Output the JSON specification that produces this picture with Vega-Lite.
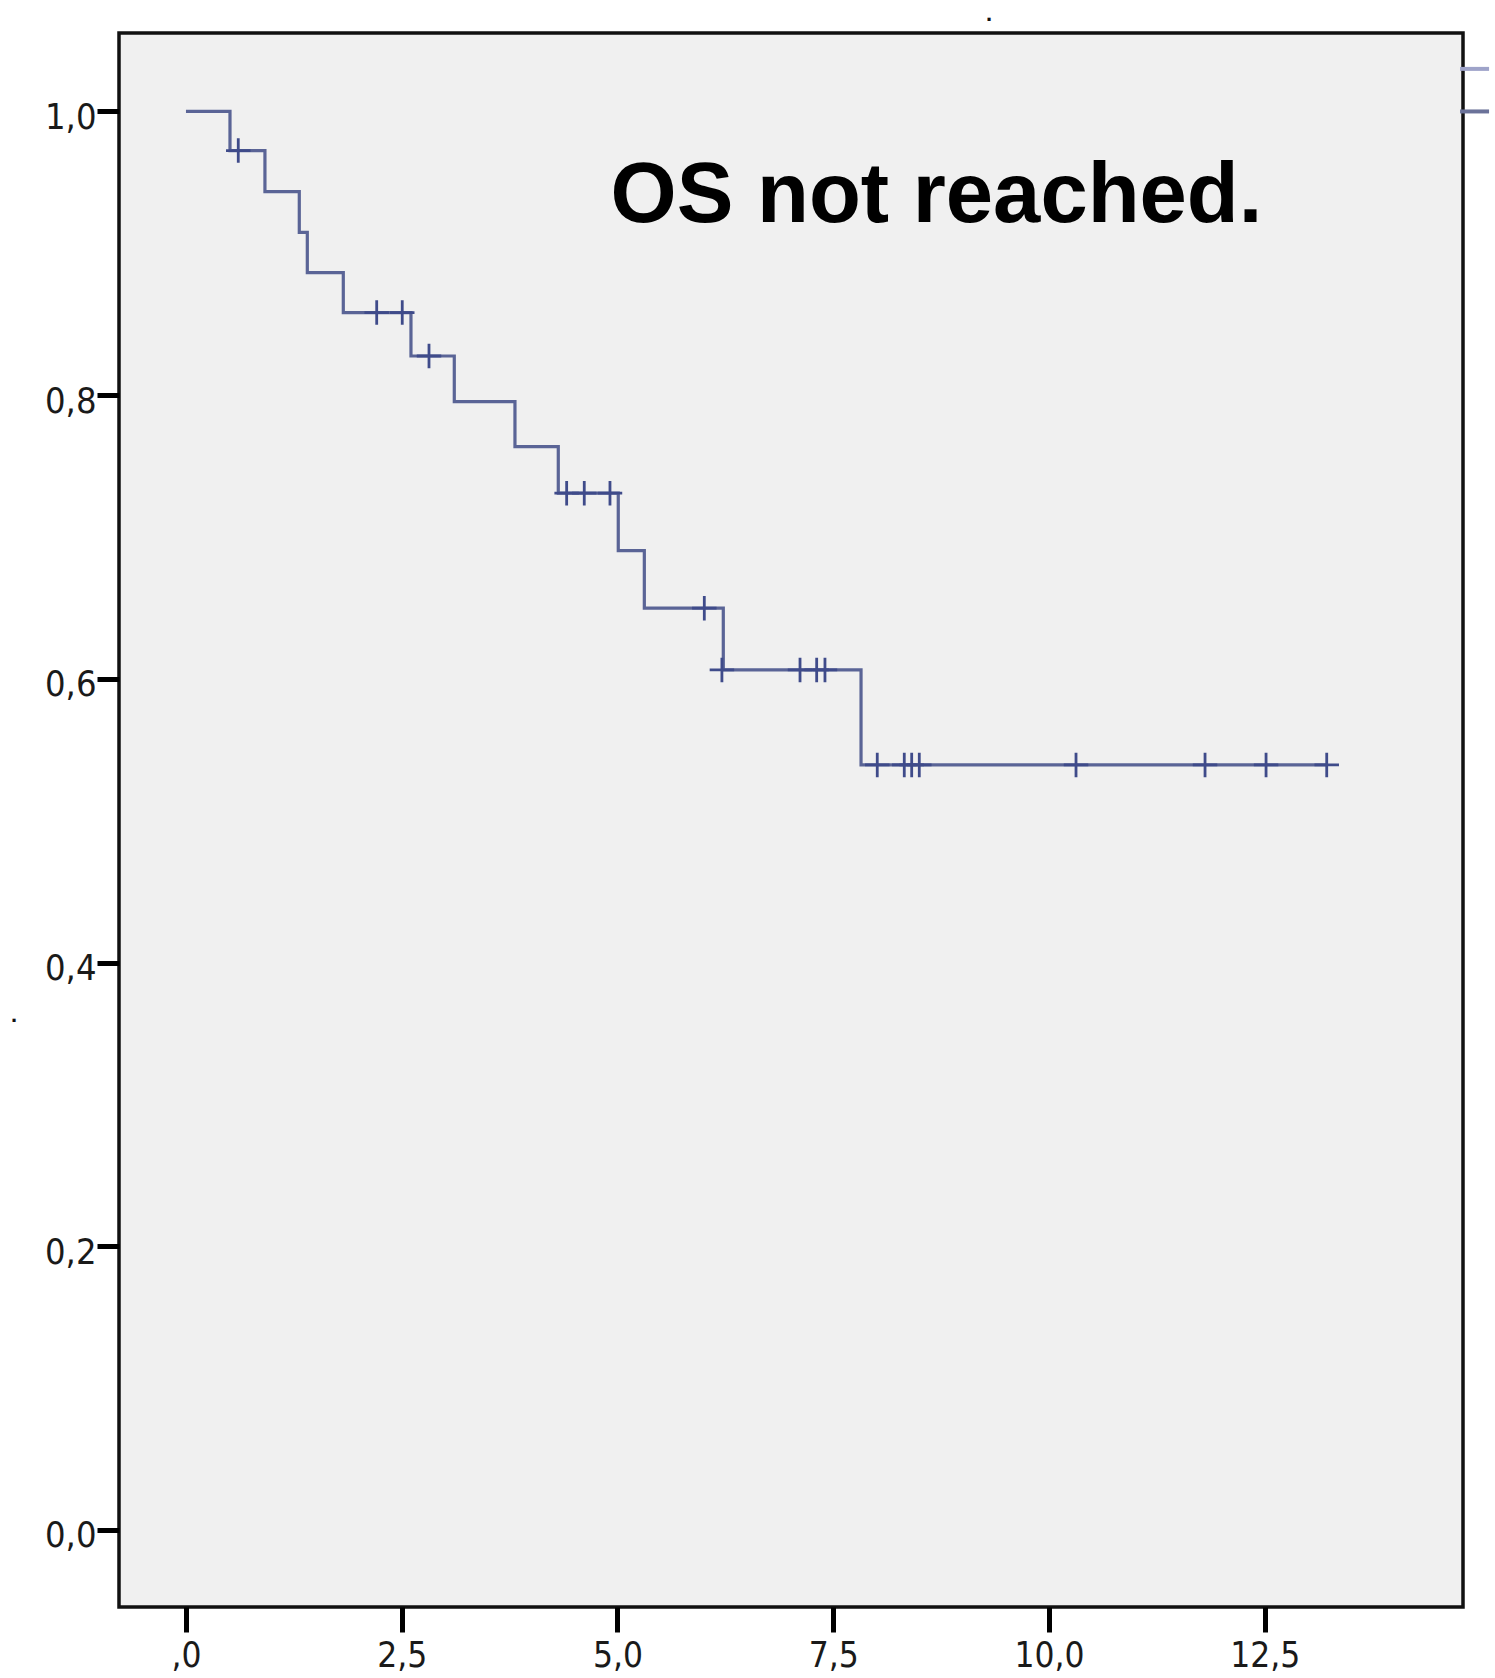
{
  "$schema": "https://vega.github.io/schema/vega-lite/v6.json",
  "autosize": {"type": "none"},
  "padding": {"left": 119, "top": 33, "right": 32, "bottom": 71},
  "width": 1344,
  "height": 1574,
  "background": "white",
  "datasets": {
    "km": [
      {"time": 0, "survival": 1.0},
      {"time": 0.51, "survival": 0.9724},
      {"time": 0.915, "survival": 0.9435},
      {"time": 1.313, "survival": 0.9148},
      {"time": 1.406, "survival": 0.8864},
      {"time": 1.823, "survival": 0.8582},
      {"time": 2.607, "survival": 0.8276},
      {"time": 3.109, "survival": 0.7954},
      {"time": 3.812, "survival": 0.7637},
      {"time": 4.314, "survival": 0.7309},
      {"time": 5.009, "survival": 0.6904},
      {"time": 5.311, "survival": 0.6498},
      {"time": 6.226, "survival": 0.6063},
      {"time": 7.822, "survival": 0.5393},
      {"time": 13.218, "survival": 0.5393}
    ],
    "censored": [
      {"time": 0.606, "survival": 0.9724},
      {"time": 2.21, "survival": 0.8582},
      {"time": 2.506, "survival": 0.8582},
      {"time": 2.816, "survival": 0.8276},
      {"time": 4.411, "survival": 0.7309},
      {"time": 4.615, "survival": 0.7309},
      {"time": 4.913, "survival": 0.7309},
      {"time": 6.006, "survival": 0.6498},
      {"time": 6.21, "survival": 0.6063},
      {"time": 7.115, "survival": 0.6063},
      {"time": 7.308, "survival": 0.6063},
      {"time": 7.404, "survival": 0.6063},
      {"time": 8.01, "survival": 0.5393},
      {"time": 8.323, "survival": 0.5393},
      {"time": 8.409, "survival": 0.5393},
      {"time": 8.497, "survival": 0.5393},
      {"time": 10.313, "survival": 0.5393},
      {"time": 11.808, "survival": 0.5393},
      {"time": 12.515, "survival": 0.5393},
      {"time": 13.218, "survival": 0.5393}
    ],
    "legendbits": [
      {"time": 14.763, "time2": 15.099, "survival": 1.030, "kind": "a"},
      {"time": 14.763, "time2": 15.099, "survival": 1.0, "kind": "b"}
    ],
    "notes": [
      {"time": 4.92, "survival": 0.9223, "label": "OS not reached."}
    ],
    "dots": [
      {"time": -1.993, "survival": 0.358, "label": "."},
      {"time": 9.305, "survival": 1.0638, "label": "."}
    ]
  },
  "layer": [
    {
      "data": {"name": "km"},
      "mark": {"type": "line", "interpolate": "step-after", "color": "#5a6496", "strokeWidth": 3.2},
      "encoding": {
        "x": {
          "field": "time", "type": "quantitative",
          "scale": {"domain": [-0.776, 14.797], "nice": false, "zero": false},
          "axis": {
            "values": [0, 2.5, 5, 7.5, 10, 12.5],
            "labelExpr": "datum.value == 0 ? ',0' : replace(format(datum.value, '.1f'), '.', ',')",
            "title": null,
            "domain": false,
            "grid": false,
            "ticks": true,
            "tickColor": "#000",
            "tickWidth": 5,
            "tickSize": 25,
            "labelFont": "Liberation Sans Narrow, DejaVu Sans Condensed, Arial Narrow, sans-serif",
            "labelFontSize": 35,
            "labelColor": "#1a1a1a",
            "labelPadding": 6,
            "labelFlush": false,
            "labelOverlap": false
          }
        },
        "y": {
          "field": "survival", "type": "quantitative",
          "scale": {"domain": [-0.0543, 1.0553], "nice": false, "zero": false},
          "axis": {
            "values": [0, 0.2, 0.4, 0.6, 0.8, 1.0],
            "labelExpr": "replace(format(datum.value, '.1f'), '.', ',')",
            "title": null,
            "domain": false,
            "grid": false,
            "ticks": true,
            "tickColor": "#000",
            "tickWidth": 5,
            "tickSize": 22,
            "labelFont": "Liberation Sans Narrow, DejaVu Sans Condensed, Arial Narrow, sans-serif",
            "labelFontSize": 36,
            "labelColor": "#1a1a1a",
            "labelPadding": 1,
            "labelOffset": 6,
            "labelFlush": false,
            "labelOverlap": false
          }
        }
      }
    },
    {
      "data": {"name": "censored"},
      "mark": {"type": "point", "shape": "M-1,0L1,0M0,-1L0,1", "size": 600, "filled": false, "stroke": "#3f4b8a", "strokeWidth": 2.8, "opacity": 1},
      "encoding": {
        "x": {"field": "time", "type": "quantitative"},
        "y": {"field": "survival", "type": "quantitative"}
      }
    },
    {
      "data": {"name": "legendbits"},
      "mark": {"type": "rule", "strokeWidth": 4},
      "encoding": {
        "x": {"field": "time", "type": "quantitative"},
        "x2": {"field": "time2"},
        "y": {"field": "survival", "type": "quantitative"},
        "color": {"field": "kind", "type": "nominal", "scale": {"domain": ["a", "b"], "range": ["#9ea3c9", "#6b7299"]}, "legend": null}
      }
    },
    {
      "data": {"name": "notes"},
      "mark": {"type": "text", "font": "Liberation Sans, Arial, sans-serif", "fontWeight": "bold", "fontSize": 85, "align": "left", "baseline": "alphabetic", "color": "#000"},
      "encoding": {
        "x": {"field": "time", "type": "quantitative"},
        "y": {"field": "survival", "type": "quantitative"},
        "text": {"field": "label"}
      }
    },
    {
      "data": {"name": "dots"},
      "mark": {"type": "text", "font": "Liberation Sans, Arial, sans-serif", "fontWeight": "bold", "fontSize": 22, "align": "center", "baseline": "alphabetic", "color": "#111"},
      "encoding": {
        "x": {"field": "time", "type": "quantitative"},
        "y": {"field": "survival", "type": "quantitative"},
        "text": {"field": "label"}
      }
    }
  ],
  "config": {
    "view": {"stroke": "#111", "strokeWidth": 3.5, "fill": "#f0f0f0"}
  }
}
